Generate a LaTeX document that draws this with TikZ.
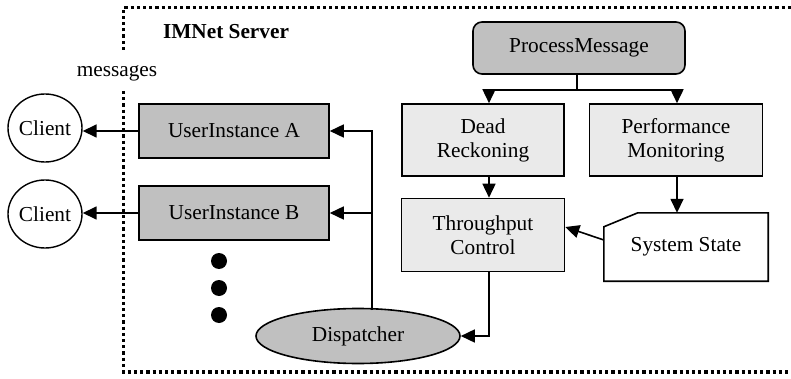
\documentclass[tikz,border=0pt]{standalone}
\usepackage{fontspec}
\setmainfont{Liberation Serif}
\usetikzlibrary{shapes.geometric,arrows.meta}
\definecolor{darkbox}{HTML}{C0C0C0}
\definecolor{lightbox}{HTML}{EAEAEA}
\begin{document}
\begin{tikzpicture}[x=1pt,y=-1pt,
  every node/.style={font=\fontsize{21.3}{24}\selectfont, inner sep=0pt},
  box/.style={draw, line width=1.6pt, rectangle, align=center},
  uibox/.style={box, fill=darkbox, minimum width=190pt, minimum height=54pt},
  lbox/.style={box, fill=lightbox, minimum height=72pt},
  client/.style={draw, line width=1.4pt, ellipse, minimum width=74pt, minimum height=68pt},
  conn/.style={line width=1.6pt, -{Triangle[length=14pt,width=13pt]}},
  plain/.style={line width=1.6pt},
  border/.style={line width=3.2pt, dash pattern=on 3.2pt off 3pt},
  bigdot/.style={circle, fill=black, minimum size=16pt}
]
\useasboundingbox (0,0) rectangle (791,379);
% border
\coordinate (b1) at (123.5,50);
\coordinate (b2) at (123.5,7.5);
\coordinate (b3) at (795,7.5);
\coordinate (b4) at (123.5,91);
\coordinate (b5) at (123.5,372);
\coordinate (b6) at (795,372);
\draw[border] (b1) -- (b2) -- (b3);
\draw[border] (b4) -- (b5) -- (b6);
\node[font=\fontsize{21.3}{24}\selectfont\bfseries] (title) at (226,32) {IMNet Server};
\node (msg) at (117,73) {messages};
% nodes
\node[uibox] (uia) at (234,131) {UserInstance A};
\node[uibox] (uib) at (234,213) {UserInstance B};
\node[client] (c1) at (45,128) {Client};
\node[client] (c2) at (45,214) {Client};
\node[box, fill=darkbox, rounded corners=9pt, minimum width=212pt, minimum height=52pt] (pm) at (579,48) {ProcessMessage};
\node[lbox, minimum width=162pt] (dr) at (483,140) {Dead\\Reckoning};
\node[lbox, minimum width=173pt] (pf) at (676,140) {Performance\\Monitoring};
\node[lbox, minimum width=163pt, minimum height=73pt] (tc) at (483,235) {Throughput\\Control};
\node[minimum width=164pt, minimum height=68pt] (ss) at (686,247) {System State};
\draw[line width=1.6pt] ([yshift=-14pt]ss.north west) -- ([xshift=34pt]ss.north west) -- (ss.north east) -- (ss.south east) -- (ss.south west) -- cycle;
\node[draw, line width=1.6pt, ellipse, fill=darkbox, minimum width=204pt, minimum height=55pt] (disp) at (358,336) {Dispatcher};
\node[bigdot] (d1) at (219,261) {};
\node[bigdot] (d2) at (219,288) {};
\node[bigdot] (d3) at (219,315) {};
% connectors
\draw[conn] (uia.west) -- (uia.west -| c1.east);
\draw[conn] (uib.west) -- (uib.west -| c2.east);
\coordinate (dtop) at (372,310);
\coordinate (dj) at (372,131);
\draw[conn] (dtop) -- (dj) -- (uia.east);
\draw[conn] (dtop |- uib.east) -- (uib.east);
\coordinate (split) at (577,90);
\draw[plain] (pm.south -| split) -- (split);
\draw[conn] (split) -| ([xshift=6pt]dr.north);
\draw[conn] (split) -| ([xshift=1pt]pf.north);
\draw[conn] ([xshift=6pt]dr.south) -- ([xshift=6pt]tc.north);
\draw[conn] ([xshift=1pt]pf.south) -- ([xshift=-9pt]ss.north);
\draw[conn] ([yshift=7pt]ss.west) -- ([yshift=8pt]tc.east);
\draw[conn] ([xshift=6pt]tc.south) |- (disp.east);
\end{tikzpicture}
\end{document}
